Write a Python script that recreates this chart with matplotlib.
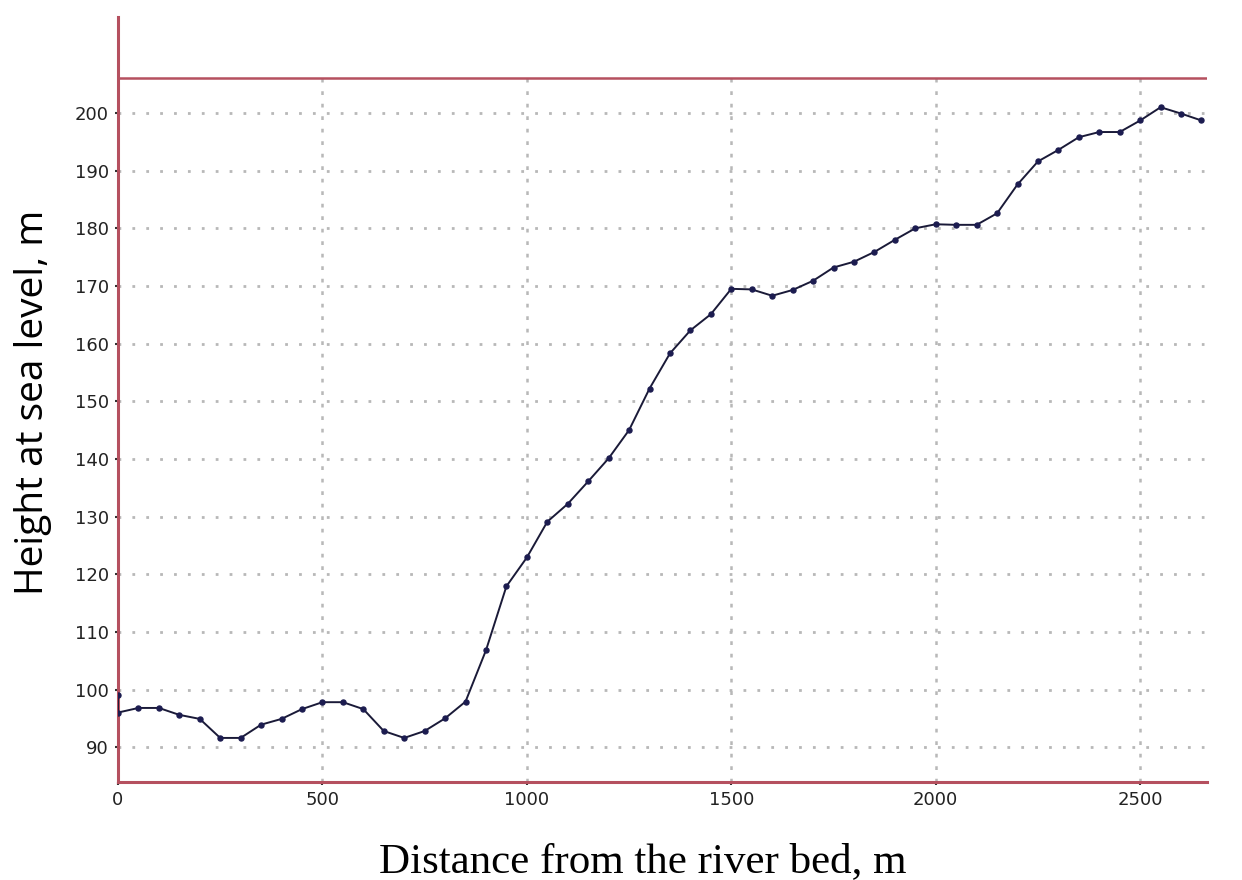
import matplotlib
matplotlib.use("Agg")
import matplotlib.pyplot as plt

# distance from the river bed (m) and height (m)
distance = [0, 0, 50, 100, 150, 200, 250, 300, 350, 400, 450, 500, 550, 600,
            650, 700, 750, 800, 850, 900, 950, 1000, 1050, 1100, 1150, 1200,
            1250, 1300, 1350, 1400, 1450, 1500, 1550, 1600, 1650, 1700, 1750,
            1800, 1850, 1900, 1950, 2000, 2050, 2100, 2150, 2200, 2250, 2300,
            2350, 2400, 2450, 2500, 2550, 2600, 2650]
height = [99, 96, 96.8, 96.8, 95.6, 94.9, 91.6, 91.6, 93.9, 94.9, 96.6, 97.8,
          97.8, 96.6, 92.8, 91.6, 92.8, 95.0, 97.9, 106.8, 117.9, 122.9, 129.1,
          132.2, 136.1, 140.1, 145.0, 152.2, 158.3, 162.3, 165.1, 169.5, 169.4,
          168.3, 169.3, 170.9, 173.2, 174.2, 175.9, 178.0, 180.0, 180.7, 180.6,
          180.6, 182.6, 187.6, 191.6, 193.6, 195.8, 196.7, 196.7, 198.7, 201.0,
          199.9, 198.7]

x_ticks = [0, 500, 1000, 1500, 2000, 2500]
y_ticks = [90, 100, 110, 120, 130, 140, 150, 160, 170, 180, 190, 200]
ceiling = 206

axis_red = "#b5505f"
grid_col = "#b8b8b8"

fig = plt.figure(figsize=(12.42, 8.8), dpi=100)
ax = fig.add_axes([0.095, 0.111, 0.877, 0.870])
ax.set_xlim(0, 2664)
ax.set_ylim(83.9, 216.7)

# dotted grid, verticals stop at the ceiling line
ax.vlines(x_ticks[1:], 83.9, ceiling, colors=grid_col, linestyles=(0, (1.5, 3.5)),
          linewidth=1.8, zorder=1)
ax.hlines(y_ticks, 0, 2655, colors=grid_col, linestyles=(0, (1, 4)),
          linewidth=2, zorder=1)

ax.axhline(ceiling, color=axis_red, linewidth=1.8, zorder=2)

ax.plot(distance, height, color="#1a1a38", linewidth=1.4, marker="o",
        markersize=3.6, markerfacecolor="#1c1c50", markeredgecolor="#1c1c50",
        zorder=3)

for s in ["top", "right"]:
    ax.spines[s].set_visible(False)
for s in ["left", "bottom"]:
    ax.spines[s].set_color(axis_red)
    ax.spines[s].set_linewidth(2.2)

ax.set_xticks(x_ticks)
ax.set_yticks(y_ticks)
ax.tick_params(length=2.5, width=1.5, color="#333333", labelsize=13,
               labelcolor="#222222", pad=4)

fig.text(643 / 1242, 8 / 880, "Distance from the river bed, m",
         family="Liberation Serif", fontsize=31, ha="center", va="baseline")
fig.text(33 / 1242, 1 - 402 / 880, "Height at sea level, m", family="Open Sans",
         fontsize=28, rotation=90, ha="center", va="center")

fig.savefig("out.png", dpi=100)
